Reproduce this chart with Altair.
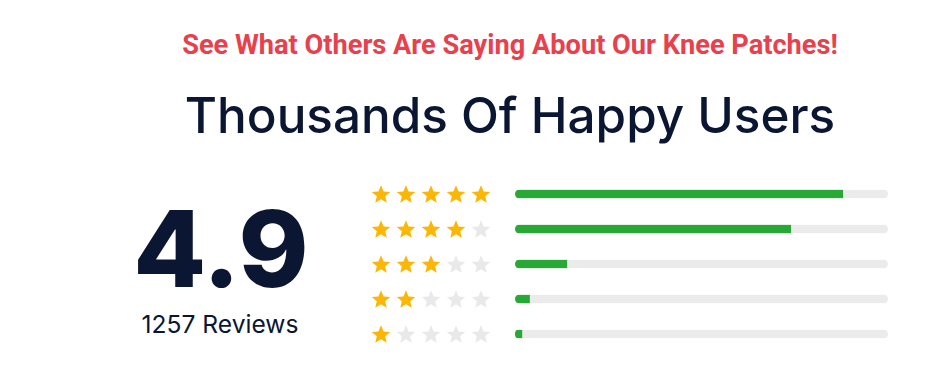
import altair as alt
import pandas as pd

# ---- data ----
subtitle = "See What Others Are Saying About Our Knee Patches!"
title = "Thousands Of Happy Users"
avg_rating = "4.9"
reviews_label = "1257 Reviews"
ratings = [5, 4, 3, 2, 1]
shares = [88, 74, 14, 4, 2]  # percent fill of each bar

# ---- tables built from the arrays ----
bars = pd.DataFrame({"rating": ratings, "share": shares, "full": [100] * len(ratings)})
stars = pd.DataFrame(
    [{"rating": r, "pos": i, "filled": "yes" if i <= r else "no"} for r in ratings for i in range(1, 6)]
)

STAR = ("M0,-0.905 L0.265,-0.269 L0.951,-0.214 L0.428,0.234 L0.588,0.904 L0,0.545 "
        "L-0.588,0.904 L-0.428,0.234 L-0.951,-0.214 L-0.265,-0.269 Z")

W, H = 930, 387
yscale = alt.Scale(type="point", domain=ratings, range=[194, 334], padding=0)
xbar = alt.Scale(domain=[0, 100], range=[515, 888], zero=True, nice=False)
xstar = alt.Scale(domain=[1, 5], range=[381, 481], nice=False, zero=False)

track = alt.Chart(bars).mark_bar(size=9, cornerRadius=4.5, color="#EBEBEB").encode(
    x=alt.X("full:Q", scale=xbar, axis=None),
    y=alt.Y("rating:O", scale=yscale, axis=None),
)
fill = alt.Chart(bars).mark_bar(
    size=9, cornerRadiusTopLeft=4.5, cornerRadiusBottomLeft=4.5, color="#28A935"
).encode(
    x=alt.X("share:Q", scale=xbar, axis=None),
    y=alt.Y("rating:O", scale=yscale, axis=None),
)
star_layer = alt.Chart(stars).mark_point(shape=STAR, filled=True, size=380, opacity=1, strokeWidth=0).encode(
    x=alt.X("pos:Q", scale=xstar, axis=None),
    y=alt.Y("rating:O", scale=yscale, axis=None),
    color=alt.Color("filled:N", scale=alt.Scale(domain=["yes", "no"], range=["#FBB606", "#E9E9E9"]), legend=None),
)

def txt(s, x, y, size, weight, color, font="Inter"):
    return alt.Chart(pd.DataFrame({"t": [s]})).mark_text(
        fontSize=size, fontWeight=weight, color=color, font=font, align="center", baseline="alphabetic"
    ).encode(x=alt.value(x), y=alt.value(y), text="t:N")

t1 = txt(subtitle, 510, 54, 27.2, 700, "#E8404C", "Roboto")
t2 = txt(title, 510, 133, 49.4, 500, "#0B1633")
t3 = txt(avg_rating, 221, 287, 106, 800, "#0B1633")
t4 = txt(reviews_label, 220, 333, 24.6, 400, "#0B1633")

chart = alt.layer(track, fill, star_layer, t1, t2, t3, t4).resolve_scale(
    x="independent"
).properties(
    width=W, height=H, padding=0, autosize=alt.AutoSizeParams(type="none"), background="white"
).configure_view(stroke=None)

chart.save("out.html", embed_options={"renderer": "svg", "actions": False})
